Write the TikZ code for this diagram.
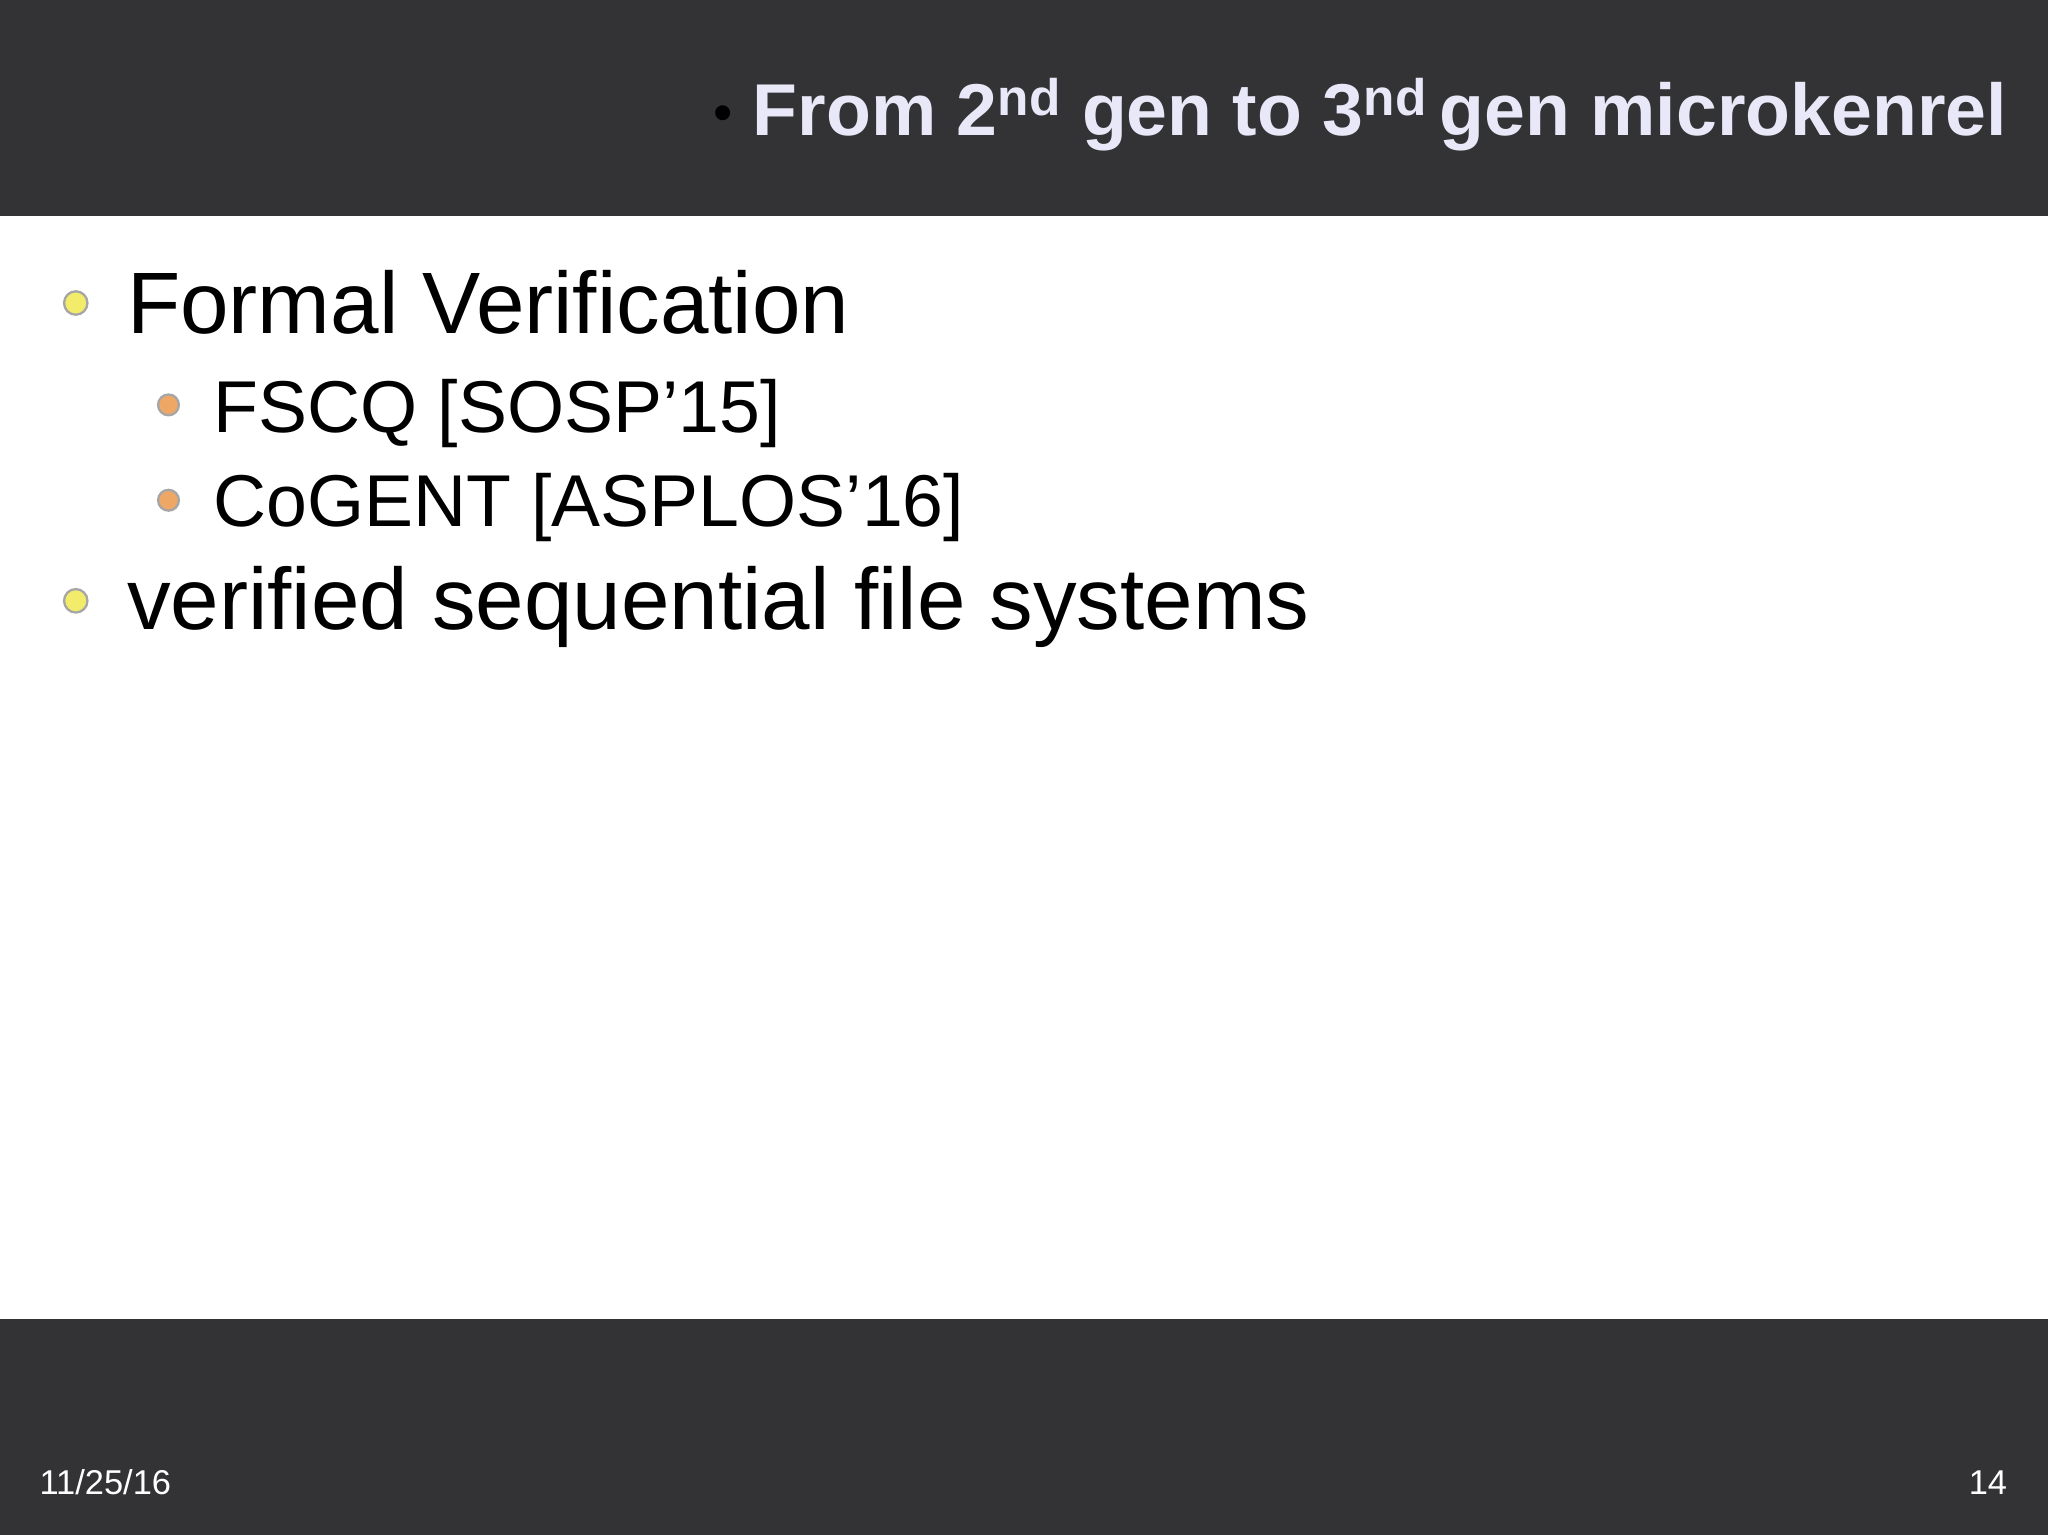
\documentclass[tikz,border=0pt]{standalone}
\usepackage{fontspec}
\setmainfont{Liberation Sans}
\definecolor{bar}{HTML}{333335}
\definecolor{ttl}{HTML}{E8E8F8}
\definecolor{yb}{HTML}{F2EC6A}
\definecolor{ob}{HTML}{EFA766}
\tikzset{txt/.style={inner sep=0pt,anchor=base west},
 bul/.style={circle,inner sep=0pt,minimum size=18\pgflinewidth,draw=gray!70,line width=1pt}}
\begin{document}
\begin{tikzpicture}[x=0.02cm,y=-0.02cm]
\useasboundingbox (0,0) rectangle (1568,1175);
\fill[bar] (0,0) rectangle (1568,165);
\fill[bar] (0,1010) rectangle (1568,1175);
\node[inner sep=0pt,anchor=base east,font=\fontsize{32}{36}\selectfont\bfseries,text=ttl] (title) at (1537,104)
 {\textcolor{black}{\normalfont\fontsize{24}{28}\selectfont\raisebox{2pt}{•}}\ From 2\textsuperscript{nd} gen to 3\textsuperscript{nd}\,gen microkenrel};
\node[bul,fill=yb,minimum size=18pt*0.567] (b1) at (58,232) {};
\node[bul,fill=ob,minimum size=16pt*0.567] (b2) at (129,310) {};
\node[bul,fill=ob,minimum size=16pt*0.567] (b3) at (129,383) {};
\node[bul,fill=yb,minimum size=18pt*0.567] (b4) at (58,460) {};
\node[txt,font=\fontsize{38}{44}\selectfont] (t1) at (97,255) {Formal Verification};
\node[txt,font=\fontsize{32}{38}\selectfont] (t2) at (163,331) {FSCQ [SOSP'15]};
\node[txt,font=\fontsize{32}{38}\selectfont] (t3) at (163,403) {CoGENT [ASPLOS'16]};
\node[txt,font=\fontsize{38}{44}\selectfont] (t4) at (97,482) {verified sequential file systems};
\node[txt,font=\fontsize{15}{18}\selectfont,text=white] (d) at (30,1144) {11/25/16};
\node[inner sep=0pt,anchor=base east,font=\fontsize{15}{18}\selectfont,text=white] (p) at (1537,1144) {14};
\end{tikzpicture}
\end{document}
